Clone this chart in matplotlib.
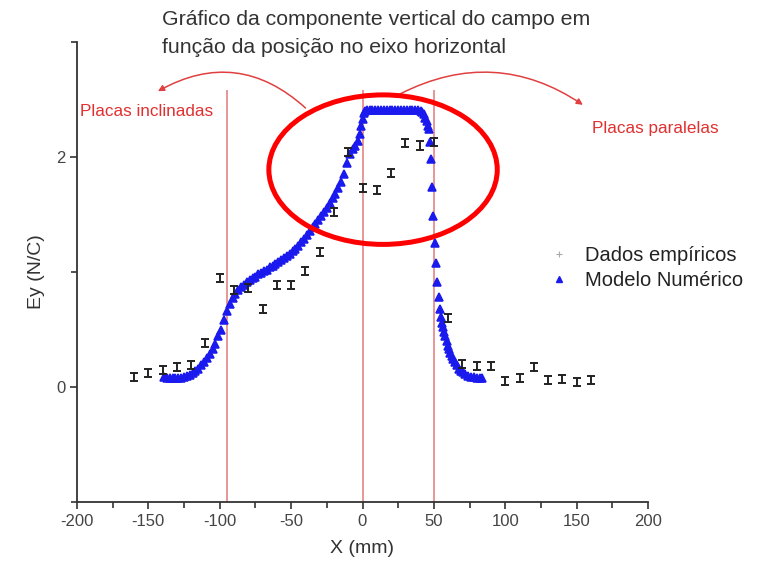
import matplotlib
matplotlib.use('Agg')
import matplotlib.pyplot as plt
from matplotlib.patches import Ellipse
from matplotlib.lines import Line2D
from matplotlib.ticker import MultipleLocator

plt.rcParams['font.family'] = ['Liberation Sans', 'DejaVu Sans']
plt.rcParams['axes.unicode_minus'] = False

# Dados empíricos (posição em mm, campo em N/C)
x_emp = [-160, -150, -140, -130, -120, -110, -100, -90, -80, -70, -60, -50, -40,
         -30, -20, -10, 0, 10, 20, 30, 40, 50, 60, 70, 80, 90, 100, 110, 120,
         130, 140, 150, 160]
y_emp = [0.09, 0.12, 0.15, 0.17, 0.19, 0.38, 0.95, 0.84, 0.86, 0.68, 0.89, 0.89,
         1.01, 1.17, 1.52, 2.04, 1.73, 1.71, 1.86, 2.12, 2.10, 2.13, 0.60, 0.20,
         0.18, 0.18, 0.05, 0.08, 0.17, 0.06, 0.07, 0.04, 0.06]
err_emp = 0.035

# Modelo numérico
x_mod = [-139, -137, -135, -133, -131, -129, -127, -125, -123, -121, -119, -117,
         -115, -113, -111, -109, -107, -105, -103, -101, -99, -97, -95, -93, -91,
         -89, -87, -85, -83, -81, -79, -77, -75, -73, -71, -69, -67, -65, -63,
         -61, -59, -57, -55, -53, -51, -49, -47, -45, -43, -41, -39, -37, -35,
         -33, -31, -29, -27, -25, -23, -21, -19, -17, -15, -13, -11, -9, -7, -5,
         -3, -2, -1, 0, 1, 2,
         3, 5, 7, 9, 11, 13, 15, 17, 19, 21, 23, 25, 27, 29, 31, 33, 35, 37, 39,
         41, 42, 43, 44, 45, 46,
         46.5, 47.3, 48.0, 48.8, 49.7, 50.6, 51.5, 52.4, 53.3, 54.1, 54.9, 55.7,
         56.5, 57.3, 58.1, 58.9, 59.7, 60.5, 61.5, 62.5, 63.5, 64.5, 66, 67.5,
         69, 70.5, 72, 74, 76, 78, 80, 82, 84]
y_mod = [0.085, 0.080, 0.077, 0.075, 0.075, 0.076, 0.079, 0.084, 0.092, 0.103,
         0.118, 0.137, 0.160, 0.187, 0.218, 0.252, 0.290, 0.330, 0.375, 0.44,
         0.50, 0.58, 0.66, 0.72, 0.77, 0.81, 0.84, 0.87, 0.89, 0.91, 0.93, 0.95,
         0.96, 0.98, 0.99, 1.01, 1.02, 1.04, 1.055, 1.07, 1.09, 1.105, 1.12,
         1.14, 1.16, 1.18, 1.20, 1.23, 1.26, 1.29, 1.32, 1.355, 1.39, 1.42,
         1.455, 1.49, 1.52, 1.56, 1.60, 1.64, 1.68, 1.73, 1.78, 1.85, 1.95,
         2.03, 2.07, 2.10, 2.14, 2.20, 2.27, 2.33, 2.38, 2.40,
         2.41, 2.41, 2.41, 2.41, 2.41, 2.41, 2.41, 2.41, 2.41, 2.41, 2.41, 2.41,
         2.41, 2.41, 2.41, 2.41, 2.41, 2.41, 2.41,
         2.40, 2.39, 2.37, 2.34, 2.31, 2.27,
         2.24, 2.13, 1.98, 1.74, 1.49, 1.25, 1.08, 0.91, 0.78, 0.68, 0.61, 0.56,
         0.52, 0.48, 0.44, 0.40, 0.36, 0.33, 0.30, 0.27, 0.24, 0.22, 0.19, 0.16,
         0.14, 0.13, 0.11, 0.10, 0.09, 0.085, 0.08, 0.078, 0.075]

# Posições das placas
x_placas = [-95, 0, 50]

fig = plt.figure(figsize=(7.62, 5.73), dpi=100)
ax = fig.add_axes([77 / 762, 1 - 502 / 573, 571 / 762, 460 / 573])

ax.vlines(x_placas, -1, 2.585, color='#e07a7a', lw=1.1, zorder=1)

ax.plot(x_mod, y_mod, ls='none', marker='^', ms=5.2, mew=1.1, color='#1a1aee',
        mec='#1a1aee', zorder=3)
ax.errorbar(x_emp, y_emp, yerr=err_emp, fmt='none', ecolor='#222222',
            elinewidth=1.4, capsize=2.8, capthick=1.4, zorder=4)

ax.set_xlim(-200, 200)
ax.set_ylim(-1, 3)
ax.xaxis.set_major_locator(MultipleLocator(50))
ax.xaxis.set_minor_locator(MultipleLocator(25))
ax.yaxis.set_major_locator(MultipleLocator(2))
ax.yaxis.set_minor_locator(MultipleLocator(1))

for s in ['top', 'right']:
    ax.spines[s].set_visible(False)
for s in ['left', 'bottom']:
    ax.spines[s].set_linewidth(1.3)
    ax.spines[s].set_color('#333333')
ax.tick_params(which='major', direction='out', length=5, width=1.2,
               colors='#333333', labelsize=12, labelcolor='#444444')
ax.tick_params(which='minor', direction='out', length=4, width=1.2,
               colors='#333333')

ax.set_xlabel('X (mm)', fontsize=14, color='#333333', labelpad=8)
ax.set_ylabel('Ey (N/C)', fontsize=14, color='#333333', labelpad=8)

# Título
fig.text(162 / 762, 1 - 25 / 573, 'Gráfico da componente vertical do campo em',
         fontsize=15.3, color='#333333', ha='left', va='baseline')
fig.text(162 / 762, 1 - 53 / 573, 'função da posição no eixo horizontal',
         fontsize=15.3, color='#333333', ha='left', va='baseline')

# Destaque e setas
ax.add_patch(Ellipse((14.4, 1.89), 160, 1.30, fill=False, ec='#ff0000', lw=3.6,
                     zorder=5, clip_on=False))
ax.annotate('', xy=(-145, 2.56), xytext=(-38.5, 2.41),
            arrowprops=dict(arrowstyle='-|>', color='#e04040', lw=1.1,
                            mutation_scale=9,
                            connectionstyle='arc3,rad=0.37'),
            annotation_clip=False)
ax.annotate('', xy=(156, 2.44), xytext=(25, 2.54),
            arrowprops=dict(arrowstyle='-|>', color='#e04040', lw=1.1,
                            mutation_scale=9,
                            connectionstyle='arc3,rad=-0.3'),
            annotation_clip=False)
fig.text(80 / 762, 1 - 112 / 573, 'Placas inclinadas', fontsize=12.3,
         color='#e03030', ha='left', va='center')
fig.text(592 / 762, 1 - 128 / 573, 'Placas paralelas', fontsize=12.3,
         color='#e03030', ha='left', va='center')

# Legenda
handles = [Line2D([], [], ls='none', marker='+', ms=5, color='#aaaaaa', mew=0.8),
           Line2D([], [], ls='none', marker='^', ms=4, color='#1a1aee')]
fig.legend(handles, ['Dados empíricos', 'Modelo Numérico'], loc='upper left',
           bbox_to_anchor=(549 / 762, 1 - 246 / 573), frameon=False,
           fontsize=14.5, handlelength=1.0, handletextpad=0.8,
           labelspacing=0.3, borderpad=0, borderaxespad=0,
           labelcolor='#222222')

fig.savefig('out.png', dpi=100)
